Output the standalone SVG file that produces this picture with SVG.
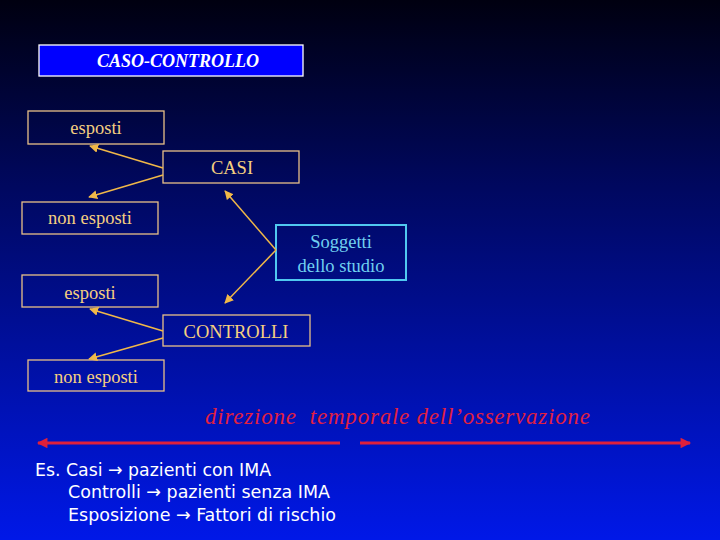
<svg xmlns="http://www.w3.org/2000/svg" width="720" height="540" viewBox="0 0 720 540">
<defs>
<linearGradient id="bg" x1="0" y1="0" x2="0" y2="1">
<stop offset="0" stop-color="#000010"/><stop offset="0.35" stop-color="#000860"/><stop offset="1" stop-color="#0018e8"/>
</linearGradient>
<marker id="ya" viewBox="0 0 10 10" refX="9" refY="5" markerWidth="6" markerHeight="6" orient="auto"><path d="M0,0L10,5L0,10z" fill="#f0b848"/></marker>
<marker id="ra" viewBox="0 0 10 10" refX="9" refY="5" markerWidth="4" markerHeight="3.5" orient="auto"><path d="M0,0L10,5L0,10z" fill="#e0203a"/></marker>
</defs>
<style>
.b{fill:none;stroke:#e8c088;stroke-width:1.3}
.t{font-family:"Liberation Serif",serif;font-size:18.5px;fill:#f5cf80;text-anchor:middle}
.c{stroke:#f0b848;stroke-width:1.5;fill:none;marker-end:url(#ya)}
.w{font-family:"DejaVu Sans Condensed","DejaVu Sans",sans-serif;font-size:18px;fill:#fff}
</style>
<rect width="720" height="540" fill="url(#bg)"/>
<g id="title"><rect x="39" y="45" width="264" height="31" fill="#0000ff" stroke="#fff" stroke-width="1.3"/><text x="178" y="67" font-family="Liberation Serif,serif" font-style="italic" font-weight="bold" font-size="18" fill="#fff" text-anchor="middle">CASO-CONTROLLO</text></g>
<g id="esp1"><rect class="b" x="28" y="111" width="136" height="33"/><text class="t" x="96" y="134">esposti</text></g>
<g id="casi"><rect class="b" x="163" y="151" width="136" height="32"/><text class="t" x="232" y="174">CASI</text></g>
<g id="nesp1"><rect class="b" x="22" y="202" width="136" height="32"/><text class="t" x="90" y="224">non esposti</text></g>
<g id="sogg"><rect x="276" y="225" width="130" height="55" fill="none" stroke="#50c8f0" stroke-width="2"/><text class="t" x="341" y="248" style="fill:#70d0f0">Soggetti</text><text class="t" x="341" y="272" style="fill:#70d0f0">dello studio</text></g>
<g id="esp2"><rect class="b" x="22" y="275" width="136" height="32"/><text class="t" x="90" y="299">esposti</text></g>
<g id="contr"><rect class="b" x="163" y="315" width="147" height="31"/><text class="t" x="236" y="338">CONTROLLI</text></g>
<g id="nesp2"><rect class="b" x="28" y="360" width="136" height="31"/><text class="t" x="96" y="383">non esposti</text></g>
<g id="connectors">
<line class="c" x1="163" y1="168" x2="90" y2="146"/>
<line class="c" x1="163" y1="175" x2="89" y2="197"/>
<line class="c" x1="276" y1="250" x2="225" y2="191"/>
<line class="c" x1="276" y1="250" x2="225" y2="303"/>
<line class="c" x1="163" y1="331" x2="90" y2="309"/>
<line class="c" x1="163" y1="338" x2="89" y2="359"/>
<line x1="340" y1="443" x2="38" y2="443" stroke="#e0203a" stroke-width="3" marker-end="url(#ra)"/>
<line x1="360" y1="443" x2="690" y2="443" stroke="#e0203a" stroke-width="3" marker-end="url(#ra)"/>
</g>
<text x="205" y="424" xml:space="preserve" textLength="385" lengthAdjust="spacing" font-family="Liberation Serif,serif" font-style="italic" font-size="23" fill="#e02040">direzione  temporale dell’osservazione</text>
<text class="w" x="35" y="476" textLength="236" lengthAdjust="spacingAndGlyphs">Es. Casi → pazienti con IMA</text>
<text class="w" x="68" y="498" textLength="262" lengthAdjust="spacingAndGlyphs">Controlli → pazienti senza IMA</text>
<text class="w" x="68" y="521" textLength="268" lengthAdjust="spacingAndGlyphs">Esposizione → Fattori di rischio</text>
</svg>
